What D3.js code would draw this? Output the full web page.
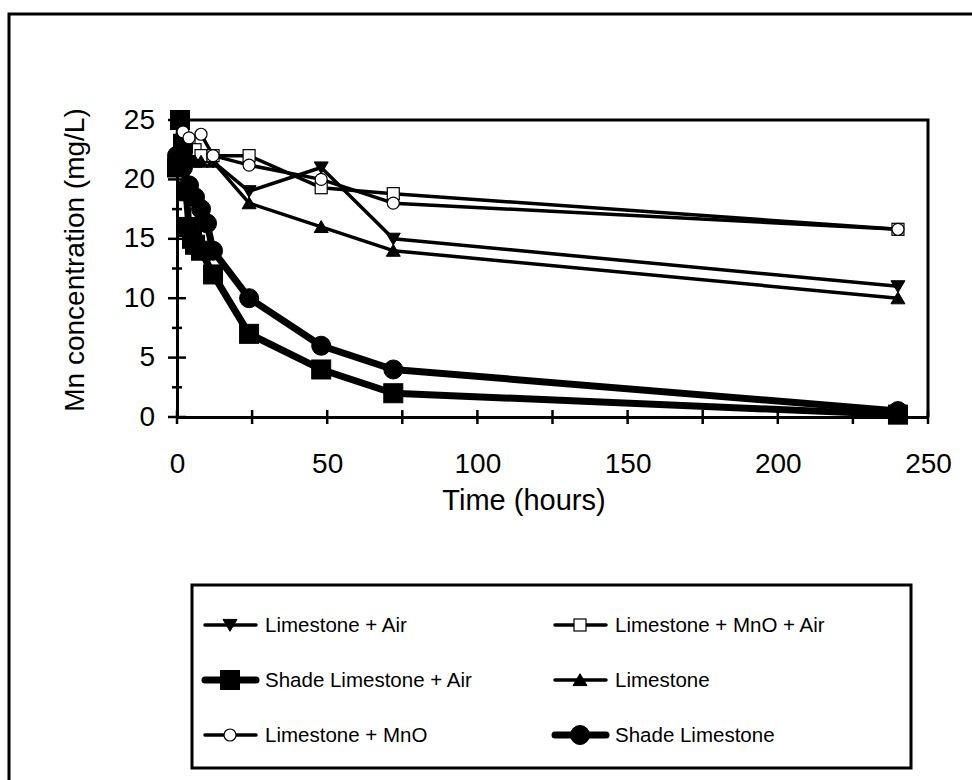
<!DOCTYPE html>
<html><head><meta charset="utf-8">
<script src="https://cdn.jsdelivr.net/npm/d3@7"></script>
<style>body{margin:0;background:#fff}svg{display:block}text{font-family:"Liberation Sans",Arial,sans-serif;fill:#000}</style>
</head><body><svg id="c" width="972" height="780"></svg>
<script>
// ---- data ----
const seriesNames = ["Limestone + Air","Limestone + MnO + Air","Shade Limestone + Air","Limestone","Limestone + MnO","Shade Limestone"];
const tLimeAir = [0,2,4,6,8,12,24,48,72,240];
const vLimeAir = [21,23,22.5,22,22,21.5,19,21,15,11];
const tLimeMnOAir = [0,2,4,6,8,12,24,48,72,240];
const vLimeMnOAir = [22,23,23,22.5,22,22,22,19.3,18.8,15.8];
const tShadeAir = [0,1,2,3,4,5,6,8,12,24,48,72,240];
const vShadeAir = [21,25,23,19,16,15,14.5,14,12,7,4,2,0.2];
const tLime = [0,2,4,6,8,12,24,48,72,240];
const vLime = [21,22,22,21.5,21.5,21.5,18,16,14,10];
const tLimeMnO = [0,2,4,8,12,24,48,72,240];
const vLimeMnO = [22,24,23.5,23.8,22,21.2,20,18,15.8];
const tShade = [0,2,4,6,8,10,12,24,48,72,240];
const vShade = [22,21,19.5,18.5,17.5,16.3,14,10,6,4,0.5];
const xTicks = [0,50,100,150,200,250];
const yTicks = [0,5,10,15,20,25];
const xTitle = "Time (hours)";
const yTitle = "Mn concentration (mg/L)";

const svg = d3.select("#c");
const x = d3.scaleLinear().domain([0,250]).range([177,928]);
const y = d3.scaleLinear().domain([0,25]).range([417,120]);

// outer frame
svg.append("path").attr("d","M9,990 L9,14 L990,14").attr("fill","none").attr("stroke","#000").attr("stroke-width",3);

// plot frame top/right
svg.append("path").attr("d",`M${x(0)},${y(25)} L${x(250)},${y(25)} L${x(250)},${y(0)}`).attr("fill","none").attr("stroke","#000").attr("stroke-width",3);

// axes
const xAxis = d3.axisBottom(x).tickValues(xTicks).tickSize(0).tickPadding(36).tickFormat(d3.format("d"));
const gx = svg.append("g").attr("transform",`translate(0,${y(0)})`).call(xAxis);
gx.select(".domain").attr("stroke-width",3);
gx.selectAll("text").attr("font-size",28);
const yAxis = d3.axisLeft(y).tickValues(yTicks).tickSize(0).tickPadding(22);
const gy = svg.append("g").attr("transform",`translate(${x(0)},0)`).call(yAxis);
gy.select(".domain").attr("stroke-width",3);
gy.selectAll("text").attr("font-size",28).attr("dy","0.29em");

// tick marks crossing axes (major & minor)
const xMinor = d3.range(0,251,25);
svg.append("g").selectAll("line").data(xMinor).join("line")
  .attr("x1",d=>x(d)).attr("x2",d=>x(d)).attr("y1",y(0)-7).attr("y2",y(0)+7)
  .attr("stroke","#000").attr("stroke-width",2.5);
const yMinor = d3.range(0,25.1,2.5);
svg.append("g").selectAll("line").data(yMinor).join("line")
  .attr("y1",d=>y(d)).attr("y2",d=>y(d)).attr("x1",d=>x(0)-(d%5===0?9:5)).attr("x2",d=>x(0)+(d%5===0?9:5))
  .attr("stroke","#000").attr("stroke-width",2.5);

// titles
svg.append("text").attr("x",524).attr("y",510).attr("text-anchor","middle").attr("font-size",29).text(xTitle);
svg.append("text").attr("transform",`translate(84,260) rotate(-90)`).attr("text-anchor","middle").attr("font-size",28).text(yTitle);

// series definitions
const series = [
  {name:seriesNames[0], t:tLimeAir, v:vLimeAir, w:3.5, sym:"tri-down", size:14, fill:"#000"},
  {name:seriesNames[1], t:tLimeMnOAir, v:vLimeMnOAir, w:3.5, sym:"square", size:12, fill:"#fff"},
  {name:seriesNames[2], t:tShadeAir, v:vShadeAir, w:7, sym:"square", size:19, fill:"#000"},
  {name:seriesNames[3], t:tLime, v:vLime, w:3.5, sym:"tri-up", size:14, fill:"#000"},
  {name:seriesNames[4], t:tLimeMnO, v:vLimeMnO, w:3.5, sym:"circle", size:12, fill:"#fff"},
  {name:seriesNames[5], t:tShade, v:vShade, w:7, sym:"circle", size:19, fill:"#000"}
];
function marker(g, s, cx, cy){
  const h = s.size/2;
  let el;
  if(s.sym==="square") el = g.append("rect").attr("x",cx-h).attr("y",cy-h).attr("width",s.size).attr("height",s.size);
  else if(s.sym==="circle") el = g.append("circle").attr("cx",cx).attr("cy",cy).attr("r",h);
  else if(s.sym==="tri-up") el = g.append("path").attr("d",`M${cx-h},${cy+h*0.8}L${cx+h},${cy+h*0.8}L${cx},${cy-h*0.9}Z`);
  else el = g.append("path").attr("d",`M${cx-h},${cy-h*0.8}L${cx+h},${cy-h*0.8}L${cx},${cy+h*0.9}Z`);
  el.attr("fill",s.fill).attr("stroke","#000").attr("stroke-width",s.fill==="#fff"?1.2:1);
}
const line = d3.line().x(d=>x(d[0])).y(d=>y(d[1]));
const plot = svg.append("g");
series.forEach(s=>{
  const pts = s.t.map((t,i)=>[t,s.v[i]]);
  plot.append("path").datum(pts).attr("d",line).attr("fill","none").attr("stroke","#000").attr("stroke-width",s.w).attr("stroke-linejoin","round");
});
series.forEach(s=>{
  const g = plot.append("g");
  s.t.forEach((t,i)=>marker(g,s,x(t),y(s.v[i])));
});

// legend
svg.append("rect").attr("x",192).attr("y",585).attr("width",719).attr("height",183).attr("fill","none").attr("stroke","#000").attr("stroke-width",3);
const legPos = [[205,625],[555,625],[205,680],[555,680],[205,735],[555,735]];
series.forEach((s,i)=>{
  const [lx,ly] = legPos[i];
  const g = svg.append("g");
  g.append("line").attr("x1",lx).attr("x2",lx+51).attr("y1",ly).attr("y2",ly).attr("stroke","#000").attr("stroke-width",s.w).attr("stroke-linecap","round");
  marker(g,s,lx+25,ly);
  g.append("text").attr("x",lx+60).attr("y",ly+7).attr("font-size",20.5).text(s.name);
});
</script></body></html>
